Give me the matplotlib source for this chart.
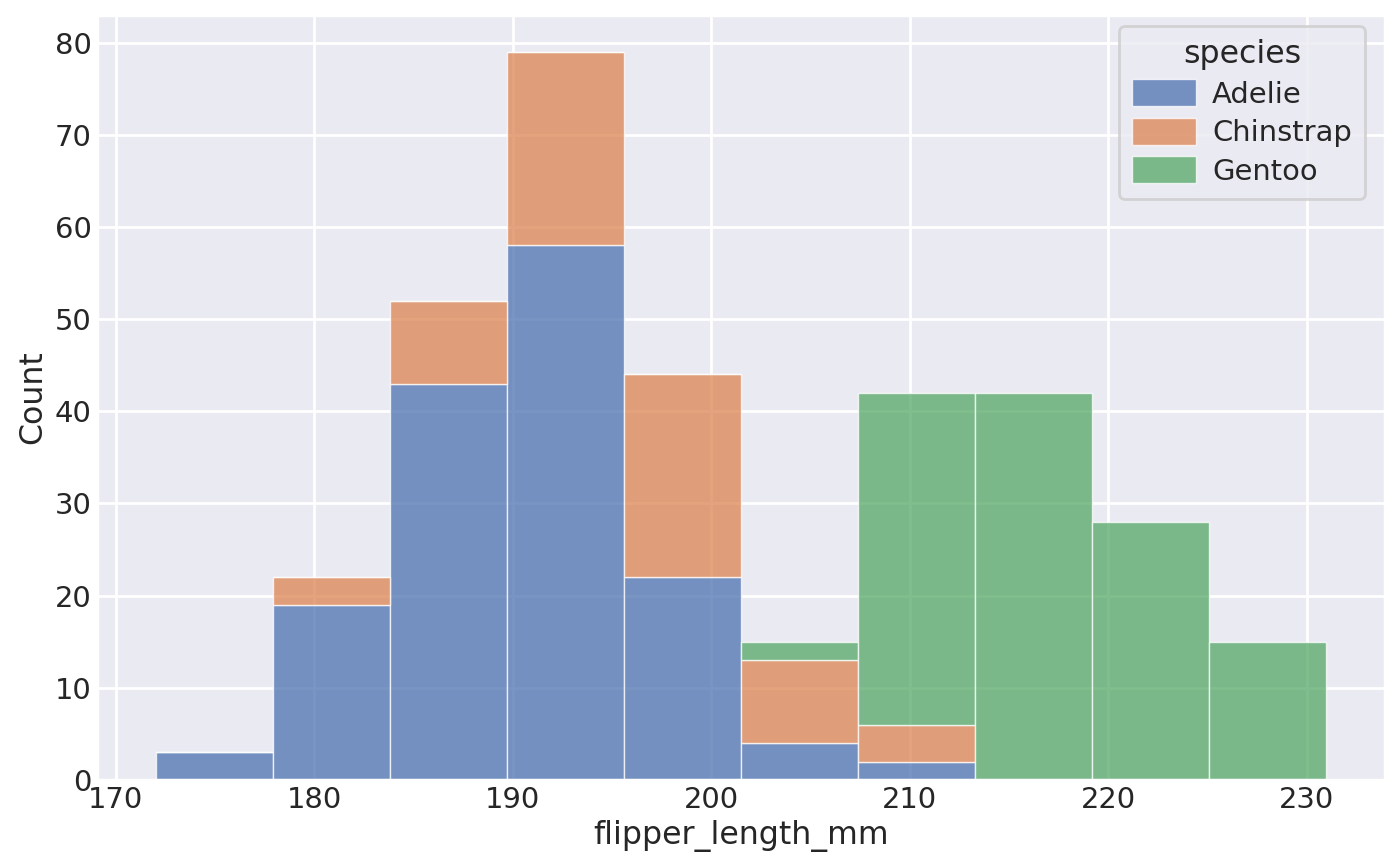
import numpy as np
import matplotlib
matplotlib.use("Agg")
import matplotlib.pyplot as plt
import seaborn as sns

sns.set_theme()
plt.rcParams.update({
    "xtick.labelsize": 10.45,
    "ytick.labelsize": 10.45,
    "xtick.major.size": 0,
    "ytick.major.size": 0,
    "xtick.major.pad": 2.0,
    "ytick.major.pad": 2.0,
    "axes.labelsize": 11.4,
    "axes.labelpad": 2.4,
    "legend.fontsize": 10.45,
    "legend.title_fontsize": 11.4,
})

bin_edges = np.linspace(172.0, 231.0, 11)
species = ["Adelie", "Chinstrap", "Gentoo"]
adelie = [3, 19, 43, 58, 22, 4, 2, 0, 0, 0]
chinstrap = [0, 3, 9, 21, 22, 9, 4, 0, 0, 0]
gentoo = [0, 0, 0, 0, 0, 2, 36, 42, 28, 15]

colors = sns.color_palette("deep", 3)

W, H = 1400, 866
fig = plt.figure(figsize=(7, 4.33), dpi=200)
ax_l, ax_r, ax_t, ax_b = 97, 1385, 15, 780
ax = fig.add_axes([ax_l / W, (H - ax_b) / H, (ax_r - ax_l) / W, (ax_b - ax_t) / H])
left = bin_edges[:-1]
width = np.diff(bin_edges)
bottom = np.zeros(10)
for name, vals, c in zip(species, [adelie, chinstrap, gentoo], colors):
    vals = np.array(vals, dtype=float)
    ax.bar(left, vals, width=width, bottom=bottom, align="edge",
           color=c, alpha=0.75, edgecolor="white", linewidth=0.5, label=name)
    bottom = bottom + vals

ax.set_xlabel("flipper_length_mm")
ax.set_ylabel("Count")
ax.set_xlim(169.05, 233.95)
ax.set_ylim(0, 83)
ax.set_xticks([170, 180, 190, 200, 210, 220, 230])
ax.legend(title="species", loc="upper right",
          bbox_to_anchor=((1365 - ax_l) / (ax_r - ax_l), (ax_b - 26) / (ax_b - ax_t)),
          borderaxespad=0, borderpad=0.45, handleheight=1.04, handlelength=2.2,
          handletextpad=0.55, labelspacing=0.32)
fig.savefig("out.png", dpi=200)
